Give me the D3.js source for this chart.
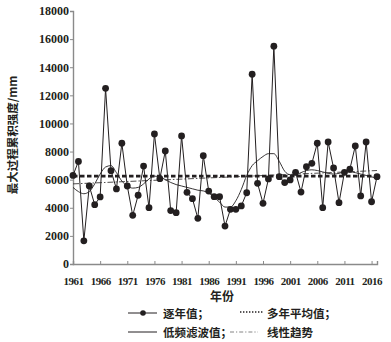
<!DOCTYPE html>
<html>
<head>
<meta charset="utf-8">
<script src="https://cdn.jsdelivr.net/npm/d3@7"></script>
<style>
  body { margin: 0; background: #fff; }
  svg text { fill: #231f20; }
</style>
</head>
<body>
<svg id="chart" width="391" height="342"></svg>
<script>
// Annual maximum accumulated process intensity (mm), 1961–2017
const years = [1961, 1962, 1963, 1964, 1965, 1966, 1967, 1968, 1969, 1970,
  1971, 1972, 1973, 1974, 1975, 1976, 1977, 1978, 1979, 1980,
  1981, 1982, 1983, 1984, 1985, 1986, 1987, 1988, 1989, 1990,
  1991, 1992, 1993, 1994, 1995, 1996, 1997, 1998, 1999, 2000,
  2001, 2002, 2003, 2004, 2005, 2006, 2007, 2008, 2009, 2010,
  2011, 2012, 2013, 2014, 2015, 2016, 2017];

// yearly values
const annualValues = [6300, 7300, 1650, 5550, 4220, 4770, 12500, 6640, 5340, 8590,
  5550, 3460, 4890, 6970, 4010, 9250, 6070, 8040, 3800, 3650,
  9110, 5100, 4650, 3250, 7710, 5190, 4790, 4790, 2700, 3890,
  3890, 4130, 5070, 13500, 5740, 4320, 6050, 15500, 6210, 5790,
  5980, 6520, 5120, 6920, 7160, 8590, 4010, 8680, 6830, 4360,
  6520, 6740, 8400, 4840, 8680, 4430, 6210];

// low-pass filtered values
const lowPassValues = [5450, 5150, 5000, 5150, 5700, 6400, 6900, 7000, 6500, 5900,
  5550, 5400, 5450, 5700, 6050, 6250, 6200, 6000, 5800, 5650,
  5550, 5450, 5350, 5250, 5200, 5050, 4750, 4400, 4050, 4050,
  4500, 5300, 6300, 7000, 7350, 7650, 7850, 7850, 7300, 6600,
  6350, 6350, 6500, 6650, 6700, 6650, 6550, 6450, 6400, 6450,
  6550, 6550, 6500, 6400, 6300, 6200, 6100];

// multi-year mean
const meanValue = [6250];

// linear trend end points (start year, end year)
const trendYears = [1961, 2017];
const trendValues = [5700, 6650];

const xTickYears = [1961, 1966, 1971, 1976, 1981, 1986, 1991, 1996, 2001, 2006, 2011, 2016, 2017];
const xTickLabels = ["1961", "1966", "1971", "1976", "1981", "1986", "1991", "1996", "2001", "2006", "2011", "2016", ""];
const yTicks = [0, 2000, 4000, 6000, 8000, 10000, 12000, 14000, 16000, 18000];

const yTitle = "最大过程累积强度/mm";
const xTitle = "年份";
const legendLabels = ["逐年值；", "多年平均值；", "低频滤波值；", "线性趋势"];

const ink = "#231f20";
const axisGray = "#8a8a8a";
const numFont = "'Liberation Serif', 'DejaVu Serif', serif";
const cjkFont = "'Noto Sans CJK SC', sans-serif";

const svg = d3.select("#chart");

const x = d3.scaleLinear().domain([1961, 2017]).range([73, 377]);
const y = d3.scaleLinear().domain([0, 18000]).range([264, 11]);

// axes
const xAxis = d3.axisBottom(x)
  .tickValues(xTickYears)
  .tickSize(-3)
  .tickPadding(13)
  .tickFormat((d, i) => xTickLabels[i]);

const gx = svg.append("g").attr("transform", `translate(0,${y(0)})`).call(xAxis);
gx.select(".domain").attr("stroke", axisGray).attr("stroke-width", 1.4);
gx.selectAll(".tick line").attr("stroke", axisGray).attr("stroke-width", 1);
gx.selectAll("text")
  .attr("font-family", numFont).attr("font-weight", "bold")
  .attr("font-size", 11).attr("fill", ink)
  .attr("letter-spacing", -0.5);

const yAxis = d3.axisLeft(y)
  .tickValues(yTicks)
  .tickSize(3)
  .tickPadding(1)
  .tickFormat(d3.format("d"));

const gy = svg.append("g").attr("transform", `translate(${x(1961)},0)`).call(yAxis);
gy.select(".domain").attr("stroke", axisGray).attr("stroke-width", 1.4);
gy.selectAll(".tick line").attr("stroke", axisGray).attr("stroke-width", 1);
gy.selectAll("text")
  .attr("font-family", numFont).attr("font-weight", "bold")
  .attr("font-size", 12).attr("fill", ink);

// axis titles
svg.append("text")
  .attr("transform", `translate(17,135) rotate(-90)`)
  .attr("text-anchor", "middle")
  .attr("font-family", cjkFont).attr("font-weight", "bold")
  .attr("font-size", 11.5)
  .text(yTitle);

svg.append("text")
  .attr("x", 222).attr("y", 301)
  .attr("text-anchor", "middle")
  .attr("font-family", cjkFont).attr("font-weight", "bold")
  .attr("font-size", 12)
  .text(xTitle);

const annual = years.map((yr, i) => ({ year: yr, value: annualValues[i] }));
const lowPass = years.map((yr, i) => ({ year: yr, value: lowPassValues[i] }));
const trend = trendYears.map((yr, i) => ({ year: yr, value: trendValues[i] }));

// low-pass filtered curve
svg.append("path")
  .datum(lowPass)
  .attr("fill", "none").attr("stroke", ink).attr("stroke-width", 0.9)
  .attr("d", d3.line().x(d => x(d.year)).y(d => y(d.value)).curve(d3.curveMonotoneX));

// linear trend
svg.append("path")
  .datum(trend)
  .attr("fill", "none").attr("stroke", ink).attr("stroke-width", 0.8)
  .attr("stroke-dasharray", "6,2,1.5,2")
  .attr("d", d3.line().x(d => x(d.year)).y(d => y(d.value)));

// yearly series
svg.append("path")
  .datum(annual)
  .attr("fill", "none").attr("stroke", ink).attr("stroke-width", 1)
  .attr("d", d3.line().x(d => x(d.year)).y(d => y(d.value)));

// multi-year mean
svg.append("line")
  .attr("x1", x(1961)).attr("x2", x(2017))
  .attr("y1", y(meanValue[0])).attr("y2", y(meanValue[0]))
  .attr("stroke", ink).attr("stroke-width", 2.6)
  .attr("stroke-dasharray", "4.5,2.5");

svg.append("g").selectAll("circle")
  .data(annual)
  .join("circle")
  .attr("cx", d => x(d.year)).attr("cy", d => y(d.value))
  .attr("r", 3.4).attr("fill", ink);

// legend
const lg = svg.append("g");
const row1 = 313, row2 = 332;

lg.append("line").attr("x1", 128).attr("x2", 157).attr("y1", row1).attr("y2", row1)
  .attr("stroke", ink).attr("stroke-width", 1);
lg.append("circle").attr("cx", 143).attr("cy", row1).attr("r", 2.8).attr("fill", ink);
lg.append("text").attr("x", 163).attr("y", row1 + 4.5)
  .attr("font-family", cjkFont).attr("font-weight", "bold").attr("font-size", 11.5)
  .text(legendLabels[0]);

lg.append("line").attr("x1", 240).attr("x2", 263).attr("y1", row1 - 1).attr("y2", row1 - 1)
  .attr("stroke", ink).attr("stroke-width", 1.4).attr("stroke-dasharray", "1.4,1.6");
lg.append("text").attr("x", 267).attr("y", row1 + 4.5)
  .attr("font-family", cjkFont).attr("font-weight", "bold").attr("font-size", 11.5)
  .text(legendLabels[1]);

lg.append("line").attr("x1", 128).attr("x2", 157).attr("y1", row2).attr("y2", row2)
  .attr("stroke", ink).attr("stroke-width", 1);
lg.append("text").attr("x", 163).attr("y", row2 + 4.5)
  .attr("font-family", cjkFont).attr("font-weight", "bold").attr("font-size", 11.5)
  .text(legendLabels[2]);

lg.append("line").attr("x1", 230).attr("x2", 258).attr("y1", row2).attr("y2", row2)
  .attr("stroke", "#666").attr("stroke-width", 0.8).attr("stroke-dasharray", "4,2,1.2,2");
lg.append("text").attr("x", 267).attr("y", row2 + 4.5)
  .attr("font-family", cjkFont).attr("font-weight", "bold").attr("font-size", 11.5)
  .text(legendLabels[3]);
</script>
</body>
</html>
